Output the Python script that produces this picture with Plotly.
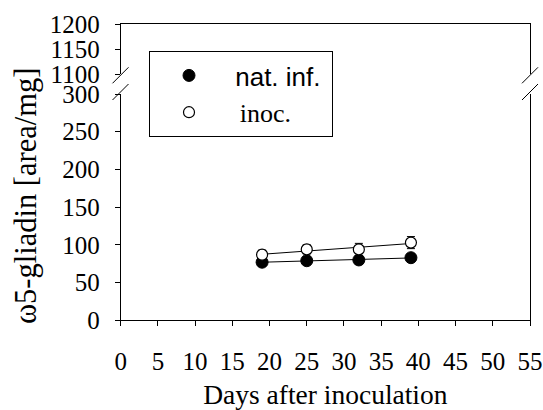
import numpy as np
import plotly.graph_objects as go

# ---- data ----
days = [19, 25, 32, 39]
nat_inf = [77, 79, 80, 83]
nat_inf_err = [5, 5, 5, 5]
inoc = [87, 94, 94, 103]
inoc_err = [6, 6, 8, 8]
x_ticks = list(range(0, 60, 5))
y_low_ticks = [0, 50, 100, 150, 200, 250, 300]
y_high_ticks = [1100, 1150, 1200]

W, H = 543, 410
def px(x): return x / W
def py(y): return 1 - y / H

SERIF = "Liberation Serif"
SANS = "Liberation Sans"
NB = "\u00a0"

fig = go.Figure()

# trendlines (linear fits)
for vals in (nat_inf, inoc):
    k, b = np.polyfit(days, vals, 1)
    xs = np.array([days[0], days[-1]])
    fig.add_trace(go.Scatter(x=xs, y=k * xs + b, mode="lines",
                             line=dict(color="black", width=1),
                             showlegend=False, hoverinfo="skip"))

fig.add_trace(go.Scatter(
    x=days, y=nat_inf, mode="markers",
    name=f'<span style="font-family:{SANS}">{NB}nat. inf.</span>' + NB,
    marker=dict(symbol="circle", size=12, color="black", line=dict(color="black", width=1)),
    error_y=dict(type="data", array=nat_inf_err, color="black", thickness=1, width=4),
    legendgroup="a"))
fig.add_trace(go.Scatter(
    x=days, y=inoc, mode="markers", name=NB + "\u2009inoc.",
    marker=dict(symbol="circle", size=11, color="white", line=dict(color="black", width=1.2)),
    error_y=dict(type="data", array=inoc_err, color="black", thickness=1, width=4),
    legendgroup="b"))
# empty trace so the upper (broken) axis segment is drawn
fig.add_trace(go.Scatter(x=[None], y=[None], xaxis="x2", yaxis="y2",
                         showlegend=False, hoverinfo="skip"))

tickfont = dict(family=SERIF, size=25, color="black")
fig.update_layout(
    width=W, height=H, autosize=False,
    margin=dict(l=0, r=0, t=0, b=0),
    paper_bgcolor="white", plot_bgcolor="white",
    showlegend=True,
    legend=dict(x=px(149), y=py(51), xanchor="left", yanchor="top",
                bordercolor="black", borderwidth=1, bgcolor="white",
                font=dict(family=SERIF, size=26, color="black"),
                itemwidth=68, tracegroupgap=0, itemsizing="trace"),
    xaxis=dict(domain=[px(120.7), px(530)], range=[0, 55], tickvals=x_ticks,
               showline=True, linecolor="black", linewidth=1, ticks="outside",
               ticklen=5, tickcolor="black", showgrid=False, zeroline=False,
               tickfont=tickfont, ticklabelstandoff=14, anchor="y", automargin=False,
               title=dict(text="Days after inoculation", font=dict(family=SERIF, size=27.5, color="black"),
                          standoff=14)),
    yaxis=dict(domain=[py(320.3), py(94)], range=[0, 300], tickvals=y_low_ticks,
               showline=True, mirror=True, linecolor="black", linewidth=1, ticks="outside",
               ticklen=5, tickcolor="black", showgrid=False, zeroline=False,
               tickfont=tickfont, ticklabelstandoff=10, anchor="x", automargin=False),
    xaxis2=dict(domain=[px(120.7), px(530)], range=[0, 55], matches="x", anchor="y2",
                side="top", showline=True, linecolor="black", linewidth=1,
                ticks="", showticklabels=False, showgrid=False, zeroline=False,
                automargin=False),
    yaxis2=dict(domain=[py(74.3), py(24.3)], range=[1100, 1200], tickvals=y_high_ticks,
                showline=True, mirror=True, linecolor="black", linewidth=1, ticks="outside",
                ticklen=5, tickcolor="black", showgrid=False, zeroline=False,
                tickfont=tickfont, ticklabelstandoff=10, anchor="x2", automargin=False),
)

# y-axis title
fig.add_annotation(text="ω5-gliadin [area/mg]", xref="paper", yref="paper",
                   x=px(26), y=py(196), xanchor="center", yanchor="middle",
                   textangle=-90, showarrow=False,
                   font=dict(family=SERIF, size=30.5, color="black"))

# axis break marks
for xc in (120.5, 530):
    for y0 in (83.3, 100):
        fig.add_shape(type="line", xref="paper", yref="paper",
                      x0=px(xc - 8), y0=py(y0), x1=px(xc + 8), y1=py(y0 - 16),
                      line=dict(color="black", width=1))

fig.write_html("out.html")
